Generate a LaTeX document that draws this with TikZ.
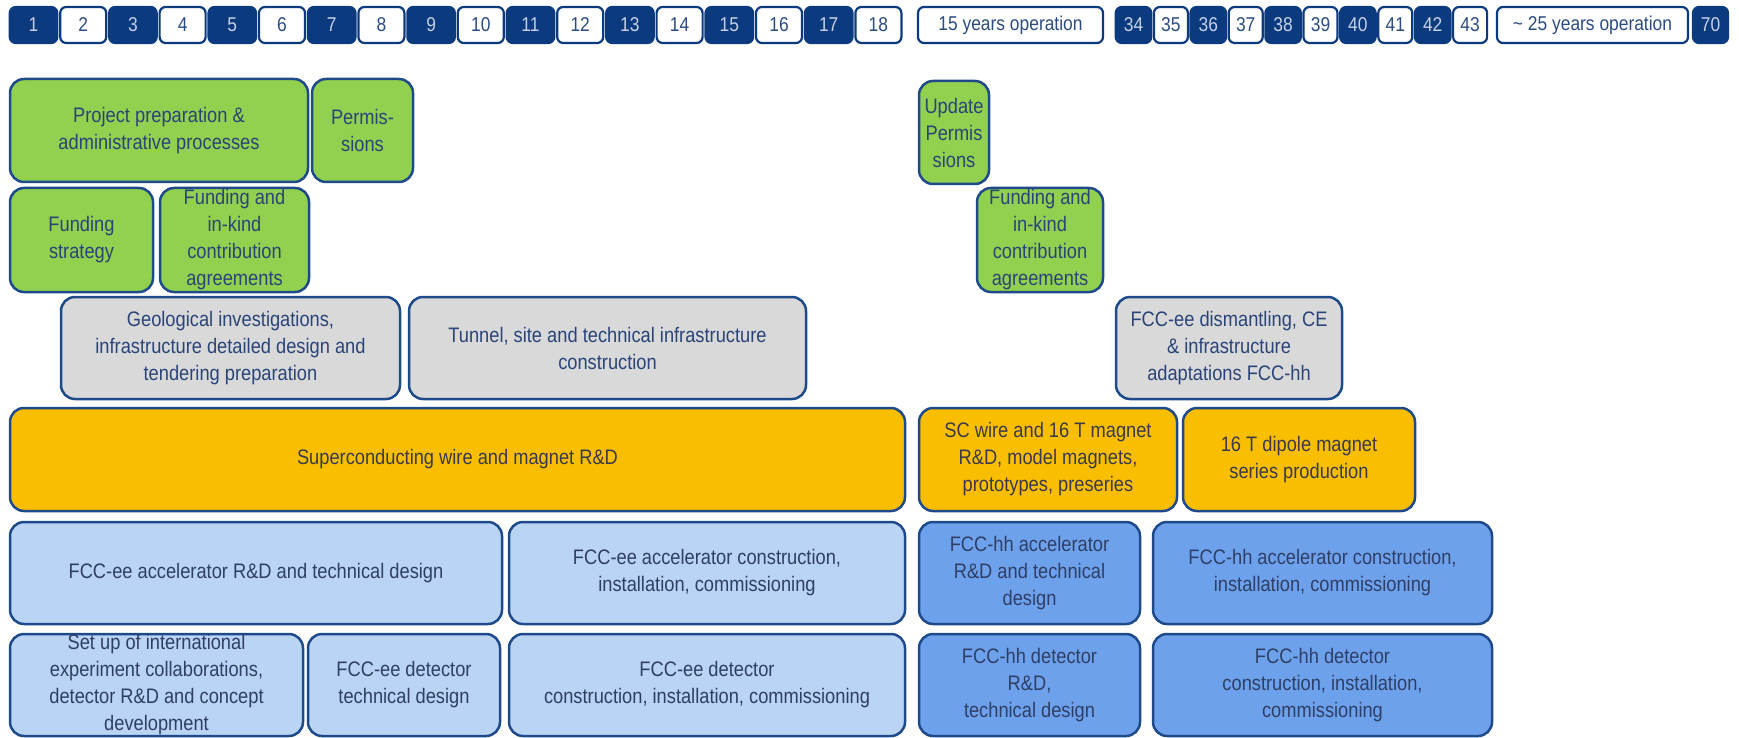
\documentclass[tikz,border=0pt]{standalone}
\usepackage{fontspec}
\setmainfont{Liberation Sans}[FakeStretch=0.87]
\definecolor{navy}{HTML}{0B3A7E}
\definecolor{bord}{HTML}{1E4A8A}
\definecolor{numlight}{HTML}{C5D0E4}
\definecolor{numdark}{HTML}{2B4C80}
\definecolor{gfill}{HTML}{92D050}
\definecolor{grfill}{HTML}{D9D9D9}
\definecolor{ofill}{HTML}{F9BE00}
\definecolor{lbfill}{HTML}{BAD4F4}
\definecolor{dbfill}{HTML}{6EA1EC}
\definecolor{txtnavy}{HTML}{2A4478}
\definecolor{txtgray}{HTML}{3A3A4C}
\definecolor{txtblue}{HTML}{2E3F66}
\tikzset{
  base/.style={draw=bord, line width=2.5pt, rounded corners=14pt, inner sep=0pt,
    align=center, font=\fontsize{21}{27}\selectfont},
  gbox/.style={base, fill=gfill, text=txtnavy},
  grbox/.style={base, fill=grfill, text=txtnavy},
  obox/.style={base, fill=ofill, text=txtgray},
  lbbox/.style={base, fill=lbfill, text=txtblue},
  dbbox/.style={base, fill=dbfill, text=txtblue},
  numbase/.style={line width=2.2pt, rounded corners=6pt, inner sep=0pt,
    minimum height=36pt, font=\fontsize{20}{24}\selectfont},
  ndark/.style={numbase, draw=navy, fill=navy, text=numlight},
  nwhite/.style={numbase, draw=navy, fill=white, text=numdark},
}
\newcommand\mybox[7]{\node[#2, minimum width={#5-#3}, minimum height={#6-#4}] (#1) at ({(#3+#5)/2},{(#4+#6)/2}) {#7};}
\begin{document}
\begin{tikzpicture}[x=1pt,y=-1pt]
\fill[white] (0,0) rectangle (1739,738);
\useasboundingbox (0,0) rectangle (1739,738);
% top row
\foreach \i in {1,...,18}{
  \pgfmathsetmacro\cx{33.5+(\i-1)*49.7}
  \ifodd\i
    \node[ndark, minimum width=47.5pt] (t\i) at (\cx,25) {\i};
  \else
    \node[nwhite, minimum width=46pt] (t\i) at (\cx,25) {\i};
  \fi
}
\mybox{op15}{nwhite}{918}{7}{1103}{43}{15 years operation}
\foreach \k [count=\c from 0] in {34,...,43}{
  \pgfmathsetmacro\cx{1116+17.5+\c*37.4}
  \ifodd\k
    \node[nwhite, minimum width=34pt] (t\k) at (\cx,25) {\k};
  \else
    \node[ndark, minimum width=35.5pt] (t\k) at (\cx,25) {\k};
  \fi
}
\mybox{op25}{nwhite}{1497}{7}{1688}{43}{\textasciitilde\ 25 years operation}
\mybox{t70}{ndark}{1693}{7}{1728}{43}{70}
% green
\mybox{proj}{gbox}{10}{79}{308}{182}{Project preparation \&\\administrative processes}
\mybox{perm}{gbox}{312}{79}{413}{182}{Permis-\\sions}
\mybox{upd}{gbox}{919}{81}{989}{184}{Update\\Permis\\sions}
\mybox{fstrat}{gbox}{10}{188}{153}{292}{Funding\\strategy}
\mybox{fkind}{gbox}{160}{188}{309}{292}{Funding and\\in-kind\\contribution\\agreements}
\mybox{fkindb}{gbox}{977}{188}{1103}{292}{Funding and\\in-kind\\contribution\\agreements}
% gray
\mybox{geo}{grbox}{61}{297}{400}{399}{Geological investigations,\\infrastructure detailed design and\\tendering preparation}
\mybox{tun}{grbox}{409}{297}{806}{399}{Tunnel, site and technical infrastructure\\construction}
\mybox{dis}{grbox}{1116}{297}{1342}{399}{FCC-ee dismantling, CE\\\& infrastructure\\adaptations FCC-hh}
% orange
\mybox{sc}{obox}{10}{408}{905}{511}{Superconducting wire and magnet R\&D}
\mybox{scw}{obox}{919}{408}{1177}{511}{SC wire and 16 T magnet\\R\&D, model magnets,\\prototypes, preseries}
\mybox{dip}{obox}{1183}{408}{1415}{511}{16 T dipole magnet\\series production}
% blue row 5
\mybox{eeacc}{lbbox}{10}{522}{502}{624}{FCC-ee accelerator R\&D and technical design}
\mybox{eeaccc}{lbbox}{509}{522}{905}{624}{FCC-ee accelerator construction,\\installation, commissioning}
\mybox{hhacc}{dbbox}{919}{522}{1140}{624}{FCC-hh accelerator\\R\&D and technical\\design}
\mybox{hhaccc}{dbbox}{1153}{522}{1492}{624}{FCC-hh accelerator construction,\\installation, commissioning}
% blue row 6
\mybox{setup}{lbbox}{10}{634}{303}{736}{Set up of international\\experiment collaborations,\\detector R\&D and concept\\development}
\mybox{eedet}{lbbox}{308}{634}{500}{736}{FCC-ee detector\\technical design}
\mybox{eedetc}{lbbox}{509}{634}{905}{736}{FCC-ee detector\\construction, installation, commissioning}
\mybox{hhdet}{dbbox}{919}{634}{1140}{736}{FCC-hh detector\\R\&D,\\technical design}
\mybox{hhdetc}{dbbox}{1153}{634}{1492}{736}{FCC-hh detector\\construction, installation,\\commissioning}
\end{tikzpicture}
\end{document}
